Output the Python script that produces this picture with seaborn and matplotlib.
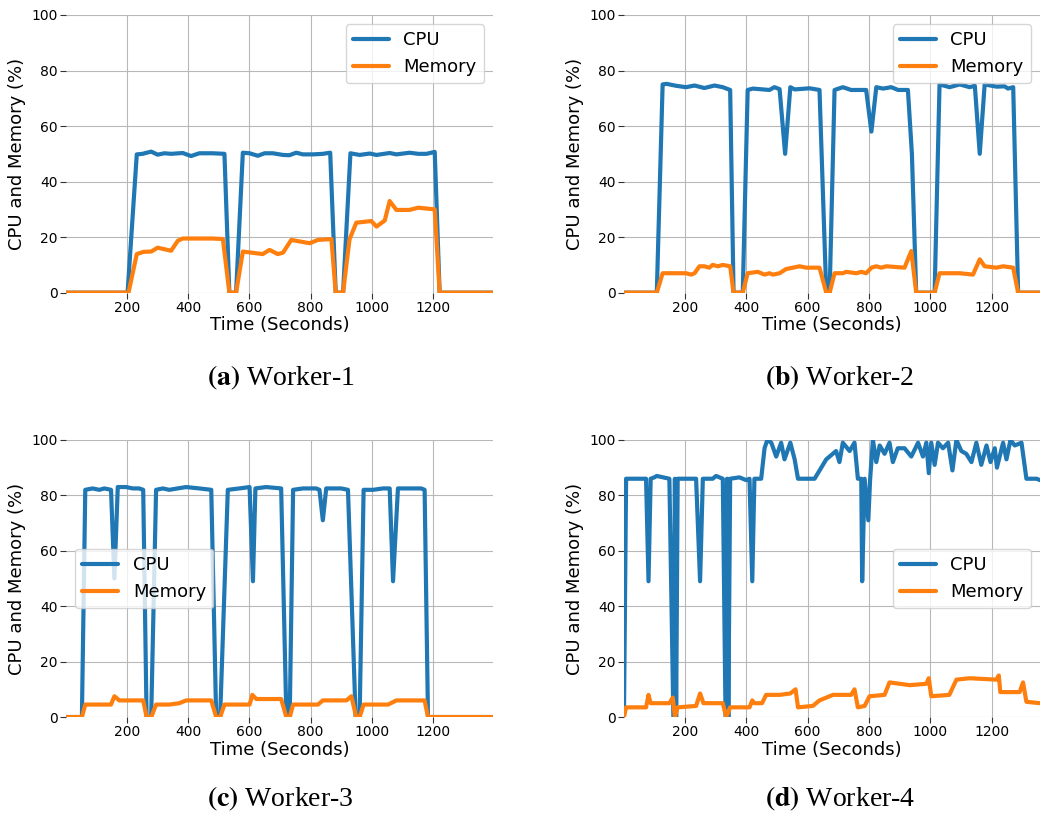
import matplotlib
matplotlib.use("Agg")
import matplotlib.pyplot as plt
import seaborn as sns
import pandas as pd

# Worker-1
w1_cpu_t = [2, 203, 233, 252, 280, 301, 323, 345, 383, 410, 437, 481, 519, 535, 557, 579, 601, 628, 650,
            677, 710, 731, 753, 775, 808, 840, 864, 882, 906, 930, 960, 993, 1015, 1058, 1080, 1123, 1151,
            1178, 1205, 1221, 1395]
w1_cpu = [0, 0, 49.8, 50, 50.8, 49.7, 50.2, 50, 50.3, 49.2, 50.2, 50.2, 50, 0, 0, 50.4, 50.2, 49.3, 50.2,
          50.2, 49.6, 49.5, 50.4, 49.8, 49.8, 50, 50.4, 0, 0, 50.2, 49.6, 50.1, 49.6, 50.3, 49.8, 50.4, 50,
          50, 50.7, 0, 0]
w1_mem_t = [2, 206, 233, 255, 280, 301, 345, 367, 383, 420, 480, 514, 535, 557, 579, 644, 666, 693, 710,
            737, 797, 824, 868, 882, 906, 927, 949, 998, 1015, 1042, 1058, 1080, 1123, 1151, 1205, 1221, 1395]
w1_mem = [0, 0, 13.9, 14.7, 14.8, 16.2, 15.1, 18.7, 19.5, 19.5, 19.5, 19.3, 0, 0, 14.8, 13.9, 15.4, 13.9,
          14.4, 19, 17.8, 19, 19.3, 0, 0, 19.2, 25.2, 25.8, 23.8, 26, 33, 29.8, 29.8, 30.6, 30, 0, 0]

# Worker-2
w2_cpu_t = [2, 109, 128, 141, 172, 204, 232, 264, 297, 324, 348, 359, 389, 405, 422, 476, 492, 509, 527,
            544, 558, 607, 639, 661, 672, 688, 715, 742, 791, 808, 824, 846, 873, 895, 927, 940, 954, 1014,
            1030, 1063, 1096, 1128, 1145, 1161, 1177, 1215, 1242, 1253, 1270, 1286, 1357]
w2_cpu = [0, 0, 75, 75.2, 74.5, 74, 74.6, 73.7, 74.6, 74, 73, 0, 0, 73, 73.5, 73, 74, 73.3, 50,
          74, 73.2, 73.6, 73, 0, 0, 73, 74, 73, 73, 58, 74, 73.5, 74, 73, 73, 50, 0, 0,
          75, 74, 75, 74, 74.5, 50, 75, 74.2, 74.3, 73.5, 74, 0, 0]
w2_mem_t = [2, 109, 128, 172, 204, 221, 232, 248, 264, 280, 291, 308, 324, 348, 359, 389, 405, 438, 460,
            476, 487, 509, 530, 552, 574, 596, 639, 661, 672, 688, 715, 726, 759, 775, 791, 808, 824, 840,
            857, 916, 938, 954, 1014, 1030, 1052, 1096, 1139, 1161, 1177, 1215, 1237, 1270, 1286, 1357]
w2_mem = [0, 0, 7, 7, 7, 6.5, 7, 9.5, 9.5, 9, 10, 9.5, 10, 9.5, 0, 0, 7, 7.5, 6.5,
          7, 6.5, 7, 8.5, 9, 9.5, 9, 9, 0, 0, 7, 7, 7.5, 7, 7.5, 7, 9, 9.5, 9,
          9.5, 9, 15, 0, 0, 7, 7, 7, 6.5, 12, 9.5, 9, 9.5, 9, 0, 0]

# Worker-3
w3_cpu_t = [2, 54, 65, 89, 111, 127, 149, 160, 171, 198, 220, 241, 254, 265, 280, 296, 318, 339, 394, 437,
            476, 492, 505, 530, 568, 601, 612, 620, 655, 704, 721, 732, 743, 775, 818, 829, 840, 851, 900,
            922, 947, 960, 973, 1004, 1036, 1058, 1069, 1085, 1134, 1161, 1172, 1183, 1395]
w3_cpu = [0, 0, 82, 82.5, 82, 82.5, 82, 50, 83, 83, 82.5, 82.5, 82, 0, 0, 82, 82.5, 82, 83, 82.5,
          82, 0, 0, 82, 82.5, 83, 49, 82.5, 83, 82.5, 0, 0, 82, 82.5, 82.5, 82, 71, 82.5, 82.5,
          82, 0, 0, 82, 82, 82.5, 82.5, 49, 82.5, 82.5, 82.5, 82, 0, 0]
w3_mem_t = [2, 54, 65, 111, 149, 160, 176, 254, 265, 280, 296, 339, 372, 394, 476, 492, 505, 519, 601, 610,
            623, 704, 721, 732, 743, 824, 840, 917, 933, 949, 960, 973, 1053, 1080, 1172, 1183, 1395]
w3_mem = [0, 0, 4.5, 4.5, 4.5, 7.5, 6, 6, 0, 0, 4.5, 4.5, 5, 6, 6, 0, 0, 4.5, 4.5, 8,
          6.5, 6.5, 0, 0, 4.5, 4.5, 6, 6, 7.5, 0, 0, 4.5, 4.5, 6, 6, 0, 0]

# Worker-4
w4_cpu_t = [2, 9, 74, 82, 89, 101, 109, 150, 163, 168, 172, 177, 237, 250, 259, 291, 302, 324, 333, 338,
            342, 348, 378, 400, 411, 420, 427, 449, 460, 469, 482, 498, 514, 525, 544, 558, 569, 623, 661,
            693, 704, 715, 737, 753, 764, 775, 778, 786, 798, 804, 813, 824, 835, 851, 867, 878, 894, 916,
            938, 960, 976, 987, 995, 1003, 1014, 1025, 1041, 1058, 1072, 1085, 1101, 1117, 1134, 1150, 1166,
            1183, 1196, 1210, 1217, 1237, 1248, 1261, 1275, 1297, 1313, 1346, 1357]
w4_cpu = [0, 86, 86, 49, 86, 86.5, 87, 86, 0, 86, 0, 86, 86, 49, 86, 86, 87, 86, 0, 86,
          0, 86, 86.5, 85.5, 86, 49, 86, 86, 97, 100, 99, 94, 99, 93, 99, 93, 86, 86, 93,
          96, 92, 99, 96, 99, 86, 86, 49, 86, 71, 86, 100, 92, 98, 95, 99, 92, 97, 97,
          94, 99, 94, 99, 88, 99, 91, 99, 97, 99, 89, 100, 96, 95, 92, 99, 91,
          98, 92, 97, 90, 99, 93, 100, 98, 99, 86, 86, 85.5]
w4_mem_t = [2, 9, 74, 82, 89, 150, 161, 168, 177, 237, 250, 261, 324, 335, 348, 411, 420, 427, 452, 465,
            509, 544, 561, 569, 617, 639, 683, 742, 753, 764, 786, 802, 851, 867, 933, 987, 995, 1003,
            1062, 1085, 1128, 1215, 1223, 1228, 1291, 1302, 1313, 1357]
w4_mem = [0, 3.5, 3.5, 8, 5, 5, 7, 0, 3.5, 4, 8.5, 5, 5, 0, 3.5, 3.5, 6, 5, 5, 8,
          8, 8.5, 10, 3.5, 4, 6, 8, 8, 10, 3.5, 4, 7.5, 8, 12.5, 11.5, 12, 14, 7.5,
          8, 13.5, 14, 13.5, 15, 9, 9, 12.5, 5.5, 5]

captions = [r"$\mathbf{(a)}$ Worker-1", r"$\mathbf{(b)}$ Worker-2",
            r"$\mathbf{(c)}$ Worker-3", r"$\mathbf{(d)}$ Worker-4"]

workers = [
    (w1_cpu_t, w1_cpu, w1_mem_t, w1_mem, 1395, "upper right"),
    (w2_cpu_t, w2_cpu, w2_mem_t, w2_mem, 1357, "upper right"),
    (w3_cpu_t, w3_cpu, w3_mem_t, w3_mem, 1395, "center left"),
    (w4_cpu_t, w4_cpu, w4_mem_t, w4_mem, 1357, "center right"),
]

sns.set_style("whitegrid", {"grid.color": ".72", "xtick.bottom": True, "ytick.left": True,
                            "axes.edgecolor": "white"})
plt.rcParams["mathtext.fontset"] = "stix"

fig = plt.figure(figsize=(10.42, 8.15), dpi=100)
positions = [
    [0.0633, 0.6409, 0.4098, 0.3407],
    [0.5988, 0.6409, 0.3992, 0.3407],
    [0.0633, 0.1202, 0.4098, 0.3400],
    [0.5988, 0.1202, 0.3992, 0.3400],
]
caption_xy = [(0.269, 0.519), (0.806, 0.519), (0.269, 0.003), (0.806, 0.003)]

for i, (ct, cv, mt, mv, xmax, loc) in enumerate(workers):
    ax = fig.add_axes(positions[i])
    cpu_df = pd.DataFrame({"t": ct, "v": cv})
    mem_df = pd.DataFrame({"t": mt, "v": mv})
    sns.lineplot(data=cpu_df, x="t", y="v", ax=ax, color="#1f77b4", lw=3, label="CPU", estimator=None)
    sns.lineplot(data=mem_df, x="t", y="v", ax=ax, color="#ff7f0e", lw=3, label="Memory", estimator=None)
    ax.set_xlim(2, xmax)
    ax.set_ylim(0, 100)
    ax.set_xticks([200, 400, 600, 800, 1000, 1200])
    ax.set_yticks([0, 20, 40, 60, 80, 100])
    for s in ax.spines.values():
        s.set_visible(False)
    ax.tick_params(axis="both", labelsize=10, length=4, color="#333333", labelcolor="black", pad=2)
    ax.set_xlabel("Time (Seconds)", fontsize=13, labelpad=1, color="black")
    ax.set_ylabel("CPU and Memory (%)", fontsize=13, labelpad=4, color="black")
    leg = ax.legend(loc=loc, fontsize=13, frameon=True, handlelength=2.0)
    for txt in leg.get_texts():
        txt.set_color("black")
    fig.text(caption_xy[i][0], caption_xy[i][1], captions[i], ha="center", va="bottom",
             fontsize=20, family="Liberation Serif", color="black")

fig.savefig("out.png", dpi=100)
